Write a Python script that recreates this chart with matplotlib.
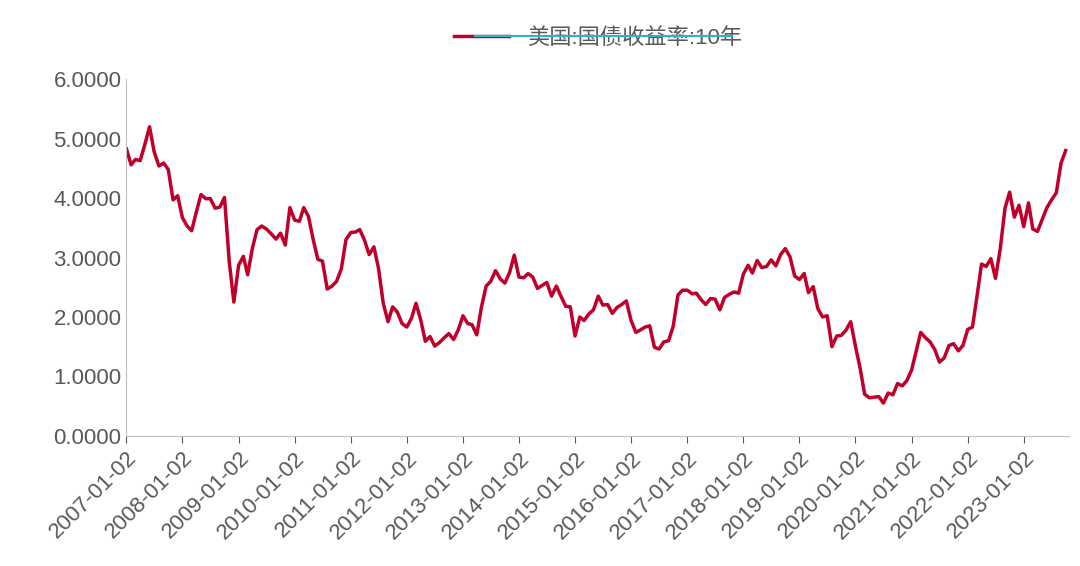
import matplotlib.pyplot as plt
import matplotlib.dates as mdates
import pandas as pd

plt.rcParams['font.family'] = ['Liberation Sans', 'Noto Sans CJK SC', 'DejaVu Sans']

# monthly 10y yields, 2007-01 .. 2023-10
y2007 = [4.83, 4.56, 4.65, 4.63, 4.90, 5.20, 4.78, 4.54, 4.59, 4.48, 3.97, 4.04]
y2008 = [3.67, 3.53, 3.45, 3.77, 4.06, 3.99, 3.99, 3.83, 3.85, 4.01, 2.93, 2.25]
y2009 = [2.87, 3.02, 2.71, 3.16, 3.47, 3.53, 3.48, 3.40, 3.31, 3.41, 3.21, 3.84]
y2010 = [3.63, 3.61, 3.84, 3.69, 3.31, 2.97, 2.94, 2.47, 2.52, 2.60, 2.81, 3.30]
y2011 = [3.42, 3.43, 3.47, 3.29, 3.05, 3.18, 2.82, 2.23, 1.92, 2.17, 2.08, 1.89]
y2012 = [1.83, 1.98, 2.23, 1.95, 1.59, 1.67, 1.51, 1.57, 1.65, 1.72, 1.62, 1.78]
y2013 = [2.02, 1.89, 1.87, 1.70, 2.16, 2.52, 2.60, 2.78, 2.64, 2.57, 2.75, 3.04]
y2014 = [2.67, 2.66, 2.73, 2.67, 2.48, 2.53, 2.58, 2.35, 2.52, 2.35, 2.18, 2.17]
y2015 = [1.68, 2.00, 1.94, 2.05, 2.12, 2.35, 2.20, 2.21, 2.06, 2.16, 2.21, 2.27]
y2016 = [1.94, 1.74, 1.78, 1.83, 1.85, 1.49, 1.46, 1.58, 1.60, 1.84, 2.37, 2.45]
y2017 = [2.45, 2.39, 2.40, 2.29, 2.21, 2.31, 2.30, 2.12, 2.33, 2.38, 2.42, 2.40]
y2018 = [2.72, 2.87, 2.74, 2.95, 2.83, 2.85, 2.96, 2.86, 3.05, 3.15, 3.01, 2.69]
y2019 = [2.63, 2.73, 2.41, 2.51, 2.14, 2.00, 2.02, 1.50, 1.68, 1.69, 1.78, 1.92]
y2020 = [1.51, 1.13, 0.70, 0.64, 0.65, 0.66, 0.55, 0.72, 0.69, 0.88, 0.84, 0.93]
y2021 = [1.11, 1.44, 1.74, 1.65, 1.58, 1.45, 1.24, 1.31, 1.52, 1.55, 1.43, 1.52]
y2022 = [1.79, 1.83, 2.32, 2.89, 2.85, 2.98, 2.65, 3.15, 3.83, 4.10, 3.68, 3.88]
y2023 = [3.52, 3.92, 3.48, 3.44, 3.64, 3.84, 3.97, 4.09, 4.59, 4.80]

values = (y2007 + y2008 + y2009 + y2010 + y2011 + y2012 + y2013 + y2014 + y2015
          + y2016 + y2017 + y2018 + y2019 + y2020 + y2021 + y2022 + y2023)
dates = pd.date_range("2007-01-01", periods=len(values), freq="MS") + pd.Timedelta(days=1)
ticks = pd.date_range("2007-01-01", "2023-01-01", freq="YS") + pd.Timedelta(days=1)

fig, ax = plt.subplots(figsize=(10.8, 5.66), dpi=100)
fig.subplots_adjust(left=0.117, right=0.99, top=0.86, bottom=0.23)
ax.plot(dates, values, color="#C0002A", lw=2.5, label="美国:国债收益率:10年")

ax.set_ylim(0, 6)
ax.set_yticks([0, 1, 2, 3, 4, 5, 6])
ax.yaxis.set_major_formatter(plt.FormatStrFormatter("%.4f"))
ax.set_xlim(pd.Timestamp("2007-01-02"), pd.Timestamp("2023-10-25"))
ax.set_xticks(ticks)
ax.xaxis.set_major_formatter(mdates.DateFormatter("%Y-%m-%d"))
plt.setp(ax.get_xticklabels(), rotation=45, ha="right", rotation_mode="anchor")
ax.tick_params(labelsize=16, colors="#595959", length=5)
ax.tick_params(axis="y", length=0)
for s in ["top", "right"]:
    ax.spines[s].set_visible(False)
ax.spines["left"].set_color("#BFBFBF")
ax.spines["bottom"].set_color("#BFBFBF")

leg = ax.legend(loc="upper center", bbox_to_anchor=(0.5, 1.2), frameon=False,
                fontsize=16, handlelength=2.5)
for t in leg.get_texts():
    t.set_color("#595959")
# cyan underline under the legend text
fig.add_artist(plt.Line2D([0.44, 0.678], [0.937, 0.937], color="#2BB5C8", lw=1.5))

fig.savefig("out.png")
